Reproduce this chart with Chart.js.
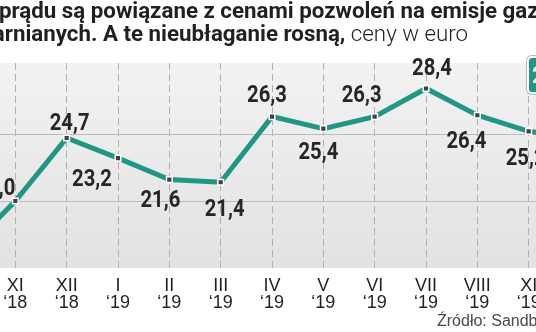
<!DOCTYPE html>
<html lang="pl">
<head>
<meta charset="utf-8">
<script src="https://cdn.jsdelivr.net/npm/chart.js@4.4.0/dist/chart.umd.min.js"></script>
<style>
    html, body { margin: 0; padding: 0; background: #fff; }
    #page { position: relative; width: 536px; height: 332px; overflow: hidden; font-family: Roboto, sans-serif; }
    #chartBox { position: absolute; left: -70px; top: 0; width: 700px; height: 332px; }
    .title { position: absolute; white-space: nowrap; font-size: 22.3px; font-weight: 700; color: #231f20; line-height: 22px; }
    .title .pre { position: absolute; right: 100%; }
    .title .light { font-weight: 300; }
    #t1 { left: -1px; top: -1px; }
    #t2 { right: 68px; top: 22px; }
    #badge {
        position: absolute; left: 527px; top: 56px; width: 60px; height: 34px;
        background: #1f9784; border: 2px solid #fff; border-radius: 5px;
        box-shadow: 0 0 0 1px #b8b8b8;
        color: #fff; font: 700 24px Roboto, sans-serif; line-height: 34px;
        padding-left: 3px; box-sizing: content-box; white-space: nowrap;
    }
    #source { position: absolute; left: 437px; top: 313px; font: 16px "Liberation Sans", Arial, sans-serif; line-height: 16px; color: #4a4a4a; white-space: nowrap; }
</style>
</head>
<body>
<div id="page">
    <div id="chartBox"><canvas id="priceChart" width="700" height="332"></canvas></div>
    <div class="title" id="t1"><span class="pre">Ceny&nbsp;</span>prądu są powiązane z cenami pozwoleń na emisje gazów</div>
    <div class="title" id="t2">cieplarnianych. A te nieubłaganie rosną, <span class="light">ceny w euro</span></div>
    <div id="badge"></div>
    <div id="source">Źródło: Sandbag</div>
</div>
<script>
// Chart data (first and last month sit just outside the visible crop)
const months = ['X', 'XI', 'XII', 'I', 'II', 'III', 'IV', 'V', 'VI', 'VII', 'VIII', 'XI', 'XII'];
const years = ['‘18', '‘18', '‘18', '‘19', '‘19', '‘19', '‘19', '‘19', '‘19', '‘19', '‘19', '‘19', '‘19'];
const prices = [16.1, 20.0, 24.7, 23.2, 21.6, 21.4, 26.3, 25.4, 26.3, 28.4, 26.4, 25.2, 24.7];

// Where each value label sits relative to its point
const labelDx = [0, -20, 3, -26, -9, 4, -5, -5, -13, 6, -11, -3, 0];
const labelDy = [24, -14, -16, 20, 19, 26, -23, 22, -23, -21, 25, 26, 25];

function formatPrice(v) {
    return v.toFixed(1).replace('.', ',');
}

document.getElementById('badge').textContent = formatPrice(prices[prices.length - 1]);

// Grey band behind the plot
const plotBackground = {
    id: 'plotBackground',
    beforeDraw(chart) {
        const { ctx, chartArea, width } = chart;
        const g = ctx.createLinearGradient(0, chartArea.top, 0, chartArea.bottom);
        g.addColorStop(0, '#f2f2f2');
        g.addColorStop(1, '#e2e2e2');
        ctx.save();
        ctx.fillStyle = g;
        ctx.fillRect(0, chartArea.top, width, chartArea.bottom - chartArea.top);
        ctx.restore();
    }
};

// Condensed bold numbers next to the points
const valueLabels = {
    id: 'valueLabels',
    afterDatasetsDraw(chart) {
        const ctx = chart.ctx;
        const meta = chart.getDatasetMeta(0);
        ctx.save();
        ctx.fillStyle = '#262626';
        ctx.font = '700 23px Roboto';
        ctx.textAlign = 'center';
        ctx.textBaseline = 'alphabetic';
        meta.data.forEach((pt, i) => {
            ctx.save();
            ctx.translate(pt.x + labelDx[i], pt.y + labelDy[i] + 8);
            ctx.scale(0.88, 1);
            ctx.fillText(formatPrice(prices[i]), 0, 0);
            ctx.restore();
        });
        ctx.restore();
    }
};

new Chart(document.getElementById('priceChart'), {
    type: 'line',
    data: {
        labels: months.map((m, i) => [m, years[i]]),
        datasets: [{
            data: prices,
            borderColor: '#1f9784',
            borderWidth: 5,
            tension: 0,
            pointStyle: 'rect',
            pointRadius: 4,
            pointBackgroundColor: '#404040',
            pointBorderColor: '#ffffff',
            pointBorderWidth: 1.5
        }]
    },
    options: {
        responsive: false,
        animation: false,
        devicePixelRatio: 1,
        layout: { padding: { left: 34, right: 50, top: 63, bottom: 24 } },
        plugins: {
            legend: { display: false },
            tooltip: { enabled: false }
        },
        scales: {
            x: {
                offset: false,
                grid: { color: '#b0b0b0', lineWidth: 1, drawTicks: false },
                border: { display: false, dash: [7, 4] },
                ticks: {
                    color: '#231f20',
                    font: { family: 'Liberation Sans', size: 18, lineHeight: 0.95 },
                    padding: 9,
                    maxRotation: 0,
                    autoSkip: false
                },
                afterFit(scale) { scale.height = 40; }
            },
            y: {
                min: 15,
                max: 30.3,
                ticks: { display: false, stepSize: 5 },
                grid: {
                    drawTicks: false,
                    color: ctx => (ctx.tick && (ctx.tick.value === 20 || ctx.tick.value === 25)) ? '#bcbcbc' : 'rgba(0,0,0,0)'
                },
                border: { display: false },
                afterFit(scale) { scale.width = 0; }
            }
        }
    },
    plugins: [plotBackground, valueLabels]
});
</script>
</body>
</html>
